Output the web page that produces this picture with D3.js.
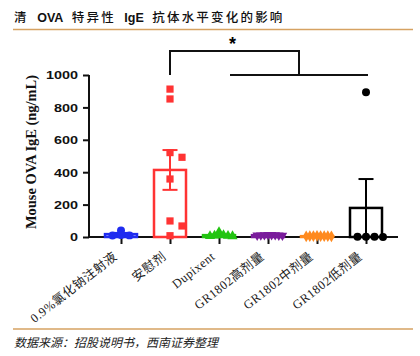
<!DOCTYPE html>
<html><head><meta charset="utf-8">
<script src="https://cdn.jsdelivr.net/npm/d3@7"></script>
<style>
html,body{margin:0;padding:0;background:#fff;}
svg{display:block;}
</style></head>
<body>
<svg id="c" width="420" height="356"></svg>
<script>
const categories = ["0.9%氯化钠注射液","安慰剂","Dupixent","GR1802高剂量","GR1802中剂量","GR1802低剂量"];
const saline = [9, 40, 12, 10];
const placebo = [913, 852, 521, 492, 358, 99, 68, 8];
const dupixent = [6, 9, 30, 12, 7, 5];
const highDose = [12, 10, 14, 11, 9, 13, 10, 12];
const midDose = [5, 6, 4, 7, 5, 6, 4, 5];
const lowDose = [893, 2, 1, 0, 1];
const yTicks = [0, 200, 400, 600, 800, 1000];
const title = "清 OVA 特异性 IgE 抗体水平变化的影响";
const yTitle = "Mouse OVA IgE (ng/mL)";
const source = "数据来源：招股说明书，西南证券整理";

const groups = [saline, placebo, dupixent, highDose, midDose, lowDose];
const colors = ["#1f2cf0","#ff3333","#22c411","#7a1c9c","#ff8a1e","#000000"];
const shapes = ["circle","square","triangle","triangleDown","diamond","circle"];

const svg = d3.select("#c");
const x = d3.scalePoint().domain(categories).range([121, 366]);
const y = d3.scaleLinear().domain([0, 1000]).range([237, 75]);

// title
const t = svg.append("text").attr("x", 14).attr("y", 22).attr("font-size", 12.5)
  .attr("fill", "#111").attr("style", "white-space:pre");
title.split(/(OVA|IgE| )/).forEach(p => {
  if (!p) return;
  const isLat = /^(OVA|IgE)$/.test(p);
  t.append("tspan").text(p === " " ? "\u2002" : p)
    .attr("font-family", isLat ? "'Liberation Sans', Arial, sans-serif" : "'Noto Sans CJK SC', sans-serif")
    .attr("font-weight", isLat ? "bold" : 500)
    .attr("letter-spacing", isLat ? 0 : 2.2);
});
svg.append("line").attr("x1", 13).attr("x2", 413).attr("y1", 29.5).attr("y2", 29.5)
  .attr("stroke", "#d6a262").attr("stroke-width", 1.5);
svg.append("line").attr("x1", 13).attr("x2", 413).attr("y1", 329).attr("y2", 329)
  .attr("stroke", "#d6a262").attr("stroke-width", 1.5);
svg.append("text").attr("x", 14).attr("y", 347).text(source)
  .attr("font-size", 12).attr("font-style", "italic")
  .attr("font-family", "'Noto Sans CJK SC', sans-serif").attr("fill", "#222");

// y axis
const yAxis = svg.append("g").attr("transform", "translate(89,0)")
  .call(d3.axisLeft(y).tickValues(yTicks).tickFormat(d3.format("d")).tickSize(6).tickPadding(5));
yAxis.select(".domain").attr("stroke", "#111").attr("stroke-width", 2).attr("d", `M0,${y(0)}V${y(1000)}`);
yAxis.selectAll(".tick line").attr("stroke", "#111").attr("stroke-width", 2);
yAxis.selectAll(".tick text").attr("font-family", "'Liberation Sans', Arial, sans-serif")
  .attr("font-weight", "bold").attr("font-size", 11).attr("fill", "#111")
  .attr("dy", "0.36em")
  .each(function(d){ const s = String(d); d3.select(this).attr("textLength", s.length * 8).attr("lengthAdjust","spacingAndGlyphs"); });

svg.append("text").text(yTitle)
  .attr("transform", "translate(36,152) rotate(-90)")
  .attr("text-anchor", "middle").attr("font-size", 14).attr("font-weight", "bold")
  .attr("font-family", "'Liberation Serif', 'Times New Roman', serif").attr("fill", "#111")
  .attr("textLength", 154).attr("lengthAdjust", "spacingAndGlyphs");

// x axis
const xAxis = svg.append("g").attr("transform", `translate(0,${y(0)})`)
  .call(d3.axisBottom(x).tickSize(7).tickFormat(""));
xAxis.select(".domain").attr("stroke", "#111").attr("stroke-width", 2).attr("d", "M89,0H398");
xAxis.selectAll(".tick line").attr("stroke", "#111").attr("stroke-width", 2);

svg.append("g").selectAll("text").data(categories).join("text")
  .attr("transform", d => `translate(${x(d) - 3},${y(0) + 21}) rotate(-38)`)
  .attr("text-anchor", "end").attr("font-size", 12.5).attr("letter-spacing", 0.5)
  .attr("font-family", "'Liberation Serif', 'Noto Sans CJK SC', serif").attr("fill", "#222")
  .text(d => d);

// bars & error bars
const barW = 32, capW = 15;
groups.forEach((vals, i) => {
  const cx = x(categories[i]);
  const mean = d3.mean(vals);
  const sem = d3.deviation(vals) / Math.sqrt(vals.length);
  const g = svg.append("g");
  g.append("rect").attr("x", cx - barW/2).attr("y", y(mean)).attr("width", barW)
    .attr("height", y(0) - y(mean)).attr("fill", "none").attr("stroke", colors[i]).attr("stroke-width", 2.5);
  const lo = Math.max(0, mean - sem), hi = mean + sem;
  g.append("line").attr("x1", cx).attr("x2", cx).attr("y1", y(lo)).attr("y2", y(hi))
    .attr("stroke", colors[i]).attr("stroke-width", 2);
  [lo, hi].forEach(v => g.append("line").attr("x1", cx - capW/2).attr("x2", cx + capW/2)
    .attr("y1", y(v)).attr("y2", y(v)).attr("stroke", colors[i]).attr("stroke-width", 2));
});

// points with simple symmetric dodge
const symType = {circle: d3.symbolCircle, square: d3.symbolSquare, triangle: d3.symbolTriangle,
  triangleDown: d3.symbolTriangle, diamond: d3.symbolDiamond};
const dodgeStep = {circle: 8.5, square: 12, triangle: 4.5, triangleDown: 3.6, diamond: 3.6};
const dodgeDy = {circle: 4.5, square: 7, triangle: 4.5, triangleDown: 4.5, diamond: 4.5};
const symSize = {circle: 50, square: 52, triangle: 45, triangleDown: 40, diamond: 40};
groups.forEach((vals, i) => {
  const cx = x(categories[i]);
  const shp = shapes[i];
  const step = dodgeStep[shp], dyT = dodgeDy[shp];
  const placed = [];
  vals.slice().sort((a, b) => b - a).forEach(v => {
    const py = y(v);
    let px = cx;
    const cand = [0];
    for (let j = 1; j < 12; j++) { cand.push(j * step, -j * step); }
    for (const off of cand) {
      if (!placed.some(p => Math.abs(p[0] - (cx + off)) < step * 0.9 && Math.abs(p[1] - py) < dyT)) { px = cx + off; break; }
    }
    placed.push([px, py]);
  });
  const sym = d3.symbol().type(symType[shp]).size(symSize[shp]);
  svg.append("g").selectAll("path").data(placed).join("path")
    .attr("d", sym)
    .attr("transform", p => `translate(${p[0]},${p[1]})` + (shp === "triangleDown" ? " rotate(180)" : ""))
    .attr("fill", colors[i]);
});

// significance bracket
const xl = x(categories[1]), xa = x(categories[2]) + 11, xb = x(categories[5]) + 2;
const xm = (xa + xb) / 2;
svg.append("path").attr("d", `M${xl},${y(1000)}V${y(1148)}H${xm}V${y(1000)}`)
  .attr("fill", "none").attr("stroke", "#111").attr("stroke-width", 2);
svg.append("line").attr("x1", xa).attr("x2", xb).attr("y1", y(1000)).attr("y2", y(1000))
  .attr("stroke", "#111").attr("stroke-width", 2);
svg.append("text").attr("x", (xl + xm) / 2 - 2).attr("y", 50).attr("text-anchor", "middle")
  .attr("font-size", 18).attr("font-weight", "bold").attr("font-family", "'Liberation Sans', Arial, sans-serif")
  .text("*");
</script>
</body></html>
